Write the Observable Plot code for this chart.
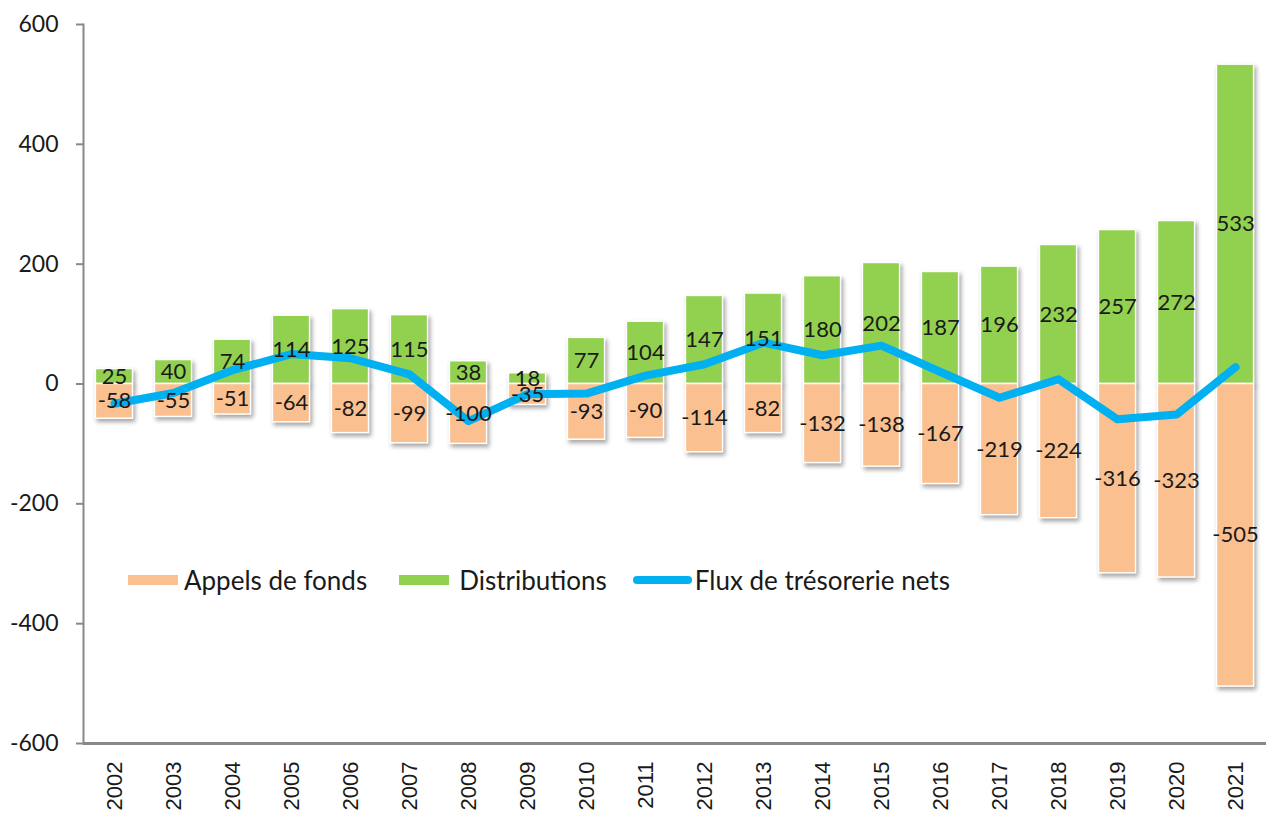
<!DOCTYPE html>
<html>
<head>
<meta charset="utf-8">
<script src="https://cdn.jsdelivr.net/npm/d3@7"></script>
<script src="https://cdn.jsdelivr.net/npm/@observablehq/plot@0.6"></script>
<style>
  html, body { margin: 0; padding: 0; background: #fff; }
  #wrap { position: relative; width: 1266px; height: 816px; }
  #legend { position: absolute; left: 128px; top: 564px; display: flex; align-items: center;
            font-family: Lato, "Open Sans", sans-serif; font-size: 26px; color: #1a1a1a; white-space: nowrap; }
  .sw { display: inline-block; width: 50px; height: 10px; }
  .item { display: flex; align-items: center; }
  .ln { display: inline-block; width: 59px; height: 8px; border-radius: 4px; background: #00B0F0; margin-right: 3px; }
</style>
</head>
<body>
<div id="wrap">
  <div id="chart"></div>
  <div id="legend">
    <span class="item"><span class="sw" style="background:#FAC090;margin-right:6px"></span>Appels de fonds</span>
    <span class="item" style="margin-left:32px"><span class="sw" style="background:#92D050;margin-right:10px"></span>Distributions</span>
    <span class="item" style="margin-left:26px"><span class="ln"></span>Flux de trésorerie nets</span>
  </div>
</div>
<script>
const years = ["2002","2003","2004","2005","2006","2007","2008","2009","2010","2011","2012","2013","2014","2015","2016","2017","2018","2019","2020","2021"];
const distributions = [25, 40, 74, 114, 125, 115, 38, 18, 77, 104, 147, 151, 180, 202, 187, 196, 232, 257, 272, 533];
const appels = [-58, -55, -51, -64, -82, -99, -100, -35, -93, -90, -114, -82, -132, -138, -167, -219, -224, -316, -323, -505];
const netFlux = [-33, -15, 23, 50, 43, 16, -62, -17, -16, 14, 33, 69, 48, 64, 20, -23, 8, -59, -51, 28];
const yTicks = [-600, -400, -200, 0, 200, 400, 600];

const data = years.map((y, i) => ({year: y, dist: distributions[i], appel: appels[i], net: netFlux[i]}));

const chart = Plot.plot({
  width: 1266,
  height: 816,
  marginLeft: 83,
  marginRight: 0,
  marginTop: 24,
  marginBottom: 73,
  style: {fontFamily: "Lato, 'Open Sans', sans-serif", background: "#fff", color: "#1a1a1a"},
  x: {type: "band", domain: years, paddingInner: 0.37, paddingOuter: 0.21, round: false},
  y: {domain: [-600, 600]},
  marks: [
    Plot.barY(data, {x: "year", y1: 0, y2: "dist", fill: "#92D050", stroke: "#fff", strokeWidth: 1.5}),
    Plot.barY(data, {x: "year", y1: 0, y2: "appel", fill: "#FAC090", stroke: "#fff", strokeWidth: 1.5}),
    Plot.line(data, {x: "year", y: "net", stroke: "#00B0F0", strokeWidth: 8, strokeLinejoin: "round"}),
    Plot.text(data, {x: "year", y: d => d.dist / 2, text: d => String(d.dist), fontSize: 22, fill: "#1a1a1a"}),
    Plot.text(data, {x: "year", y: d => d.appel / 2, text: d => String(d.appel), fontSize: 22, fill: "#1a1a1a"}),
    Plot.frame({anchor: "left", stroke: "#888", strokeWidth: 2}),
    Plot.ruleY([-600], {stroke: "#888", strokeWidth: 3}),
    Plot.axisY({ticks: yTicks, tickFormat: d => String(d), tickSize: 7, tickPadding: 18, fontSize: 23, stroke: "#888", strokeWidth: 2, fill: "#1a1a1a", label: null}),
    Plot.axisX({tickRotate: -90, tickSize: 0, tickPadding: 18, fontSize: 22, fontFamily: "'Liberation Sans', Arial, sans-serif", fill: "#1a1a1a", label: null})
  ]
});
chart.querySelectorAll('g[aria-label="bar"]').forEach(g => {
  g.style.filter = "drop-shadow(2px 3px 2px rgba(0,0,0,0.35))";
});
document.getElementById("chart").appendChild(chart);
</script>
</body>
</html>
